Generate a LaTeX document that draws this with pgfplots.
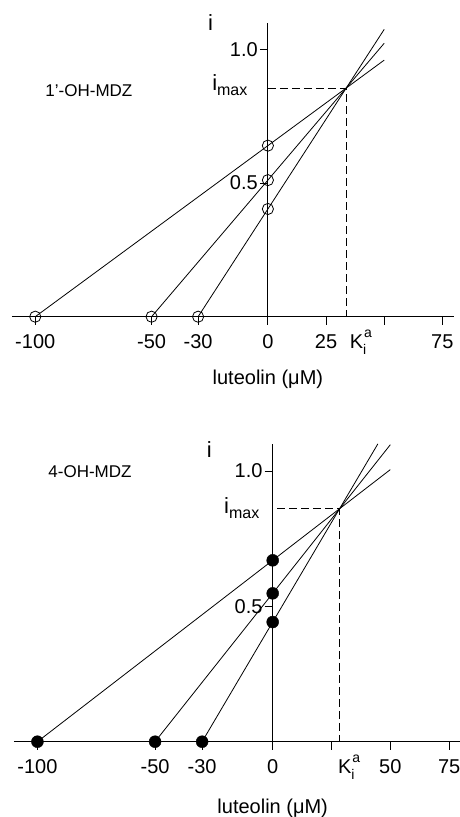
\documentclass[border=0pt]{standalone}
\usepackage{fontspec}
\setmainfont{Liberation Sans}
\usepackage{pgfplots}
\pgfplotsset{compat=1.18}
\newcommand{\Kia}{K\rlap{\raisebox{-0.28em}{\fontsize{14}{14}\selectfont i}}\hspace{1pt}\raisebox{0.55em}{\fontsize{14}{14}\selectfont a}}
\pgfplotsset{
  panel/.style={
    scale only axis, clip=false,
    xmin=-110, xmax=80, ymin=0, ymax=1.1,
    axis x line=bottom, axis y line=middle,
    axis line style={-, line width=0.9pt, black},
    every inner y axis line/.append style={-},
    every outer x axis line/.append style={-},
    tick align=outside, major tick length=8pt,
    tick style={black, line width=0.9pt},
    ytick={0.5,1}, yticklabels={0.5,1.0},
    tick label style={font=\fontsize{20}{22}\selectfont},
    xticklabel style={anchor=base, yshift=-24pt},
    yticklabel style={inner xsep=2pt},
    extra x tick style={tick style={draw=none}},
  },
  fitline/.style={black, line width=0.8pt, no marks},
  dash/.style={black, line width=1.1pt, dash pattern=on 8pt off 4pt, no marks},
}
\begin{document}
\begin{tikzpicture}
\useasboundingbox (0,0) rectangle (460pt,817pt);
% ---------- top panel: 1'-OH-MDZ ----------
\begin{axis}[panel, at={(12pt,500.3pt)}, anchor=south west,
  width=442pt, height=294pt,
  xtick={-100,-50,-30,0,25,50,75}, xticklabels={-100,-50,-30,0,25,,75},
  extra x ticks={40}, extra x tick labels={\Kia}]
\addplot[fitline] coordinates {(-100,0) (0,0.640) (50,0.960)};
\addplot[fitline] coordinates {(-50,0) (0,0.511) (50,1.023)};
\addplot[fitline] coordinates {(-30,0) (0,0.403) (50,1.075)};
\addplot[dash] coordinates {(0,0.855) (33.6,0.855) (33.6,0)};
\addplot[only marks, mark=o, mark size=5.6pt, mark options={draw=black, line width=0.8pt}]
  coordinates {(-100,0) (0,0.640) (-50,0) (0,0.511) (-30,0) (0,0.403)};
\node[font=\fontsize{22}{24}\selectfont] at (axis cs:-24.6,1.10) {i};
\node[anchor=base west, inner sep=0pt, font=\fontsize{22}{24}\selectfont] at (axis cs:-24.0,0.848) {i\raisebox{-0.25em}{\fontsize{16}{16}\selectfont max}};
\node[anchor=base west, inner sep=0pt, font=\fontsize{17}{19}\selectfont] at (axis cs:-95.7,0.823) {1'-OH-MDZ};
\node[anchor=base, inner sep=0pt, font=\fontsize{20}{22}\selectfont] at (axis cs:0,0) [yshift=-68pt] {luteolin (μM)};
\end{axis}
% ---------- bottom panel: 4-OH-MDZ ----------
\begin{axis}[panel, at={(13.9pt,75.3pt)}, anchor=south west,
  width=447pt, height=297.8pt,
  xtick={-100,-50,-30,0,25,50,75}, xticklabels={-100,-50,-30,0,,50,75},
  extra x ticks={32.5}, extra x tick labels={\Kia}]
\addplot[fitline] coordinates {(-100,0) (0,0.670) (50,1.005)};
\addplot[fitline] coordinates {(-50,0) (0,0.548) (50,1.097)};
\addplot[fitline] coordinates {(-30,0) (0,0.442) (44.7,1.100)};
\addplot[dash] coordinates {(2,0.860) (28.4,0.860) (28.4,0)};
\addplot[only marks, mark=*, mark size=6pt, mark options={fill=black, draw=black}]
  coordinates {(-100,0) (0,0.670) (-50,0) (0,0.548) (-30,0) (0,0.442)};
\node[font=\fontsize{22}{24}\selectfont] at (axis cs:-26.9,1.078) {i};
\node[anchor=base west, inner sep=0pt, font=\fontsize{22}{24}\selectfont] at (axis cs:-20.7,0.844) {i\raisebox{-0.25em}{\fontsize{16}{16}\selectfont max}};
\node[anchor=base west, inner sep=0pt, font=\fontsize{17}{19}\selectfont] at (axis cs:-95.4,0.975) {4-OH-MDZ};
\node[anchor=base, inner sep=0pt, font=\fontsize{20}{22}\selectfont] at (axis cs:0,0) [yshift=-71.6pt] {luteolin (μM)};
\end{axis}
\end{tikzpicture}
\end{document}
